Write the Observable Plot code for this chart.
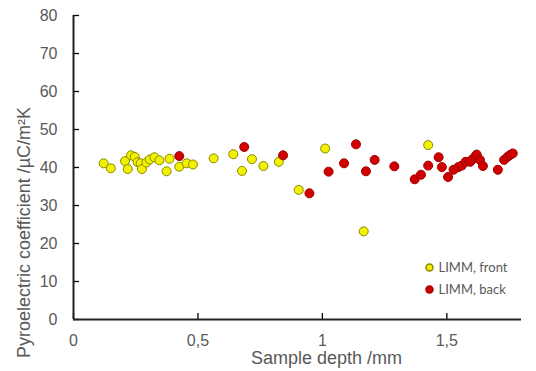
<!DOCTYPE html>
<html>
<head>
<meta charset="utf-8">
<script src="https://cdn.jsdelivr.net/npm/d3@7"></script>
<script src="https://cdn.jsdelivr.net/npm/@observablehq/plot@0.6"></script>
<style>
  html, body { margin: 0; padding: 0; background: #fff; }
</style>
</head>
<body>
<div id="chart"></div>
<script>
const frontX = [0.121,0.150,0.207,0.218,0.231,0.246,0.258,0.270,0.275,0.293,0.306,0.325,0.345,0.374,0.386,0.425,0.455,0.480,0.563,0.642,0.677,0.717,0.763,0.825,0.905,1.011,1.166,1.425];
const frontY = [41.1,39.8,41.7,39.6,43.2,42.8,41.4,41.1,39.6,41.3,42.1,42.7,41.9,39.0,42.3,40.2,41.1,40.8,42.4,43.5,39.1,42.2,40.4,41.5,34.1,45.0,23.2,45.9];
const backX = [0.425,0.686,0.842,0.948,1.025,1.087,1.135,1.175,1.210,1.289,1.371,1.396,1.425,1.467,1.480,1.505,1.527,1.546,1.560,1.576,1.594,1.602,1.614,1.620,1.633,1.645,1.705,1.730,1.744,1.754,1.765];
const backY = [43.0,45.4,43.2,33.2,38.9,41.1,46.1,39.0,42.0,40.3,36.9,38.1,40.5,42.7,40.1,37.5,39.4,40.1,40.5,41.5,41.5,42.1,42.9,43.4,42.0,40.4,39.4,42.0,42.8,43.3,43.7];
const xTicks = [0, 0.5, 1, 1.5];
const yTicks = [0, 10, 20, 30, 40, 50, 60, 70, 80];
const seriesNames = ["LIMM, front", "LIMM, back"];
const xTitle = "Sample depth /mm";
const yTitle = "Pyroelectric coefficient /µC/m²K";

const front = frontX.map((x, i) => ({x, y: frontY[i]}));
const back = backX.map((x, i) => ({x, y: backY[i]}));

const axisFont = "Liberation Sans, Arial, sans-serif";
const fmt = d => String(d).replace(".", ",");

const chart = Plot.plot({
  width: 536,
  height: 371,
  marginLeft: 73,
  marginRight: 15,
  marginTop: 15,
  marginBottom: 52,
  style: {background: "#fff", fontFamily: axisFont},
  x: {domain: [0, 1.8]},
  y: {domain: [0, 80]},
  marks: [
    // inward tick marks
    Plot.axisX(xTicks, {tickSize: -6, tickFormat: () => "", stroke: "#000", strokeWidth: 1.3, label: null}),
    Plot.axisY(yTicks, {tickSize: -6, tickFormat: () => "", stroke: "#000", strokeWidth: 1.3, label: null}),
    // tick labels
    Plot.axisX(xTicks, {tickSize: 0, tickPadding: 15, tickFormat: fmt, fontSize: 16, fill: "#595959", label: null}),
    Plot.axisY(yTicks, {tickSize: 0, tickPadding: 16, fontSize: 16, fill: "#595959", label: null}),
    Plot.ruleY([0], {stroke: "#222", strokeWidth: 2}),
    Plot.ruleX([0], {stroke: "#222", strokeWidth: 2}),
    Plot.dot(front, {x: "x", y: "y", r: 4.5, fill: "#f2f200", stroke: "#8a8a00", strokeWidth: 1}),
    Plot.dot(back, {x: "x", y: "y", r: 4.5, fill: "#d00000", stroke: "#a40000", strokeWidth: 1}),
    // axis titles
    Plot.text([xTitle], {frameAnchor: "bottom", textAnchor: "middle", dx: 29, dy: 39, lineAnchor: "middle", fontSize: 18, fill: "#595959", fontFamily: axisFont}),
    Plot.text([yTitle], {frameAnchor: "left", textAnchor: "middle", rotate: -90, dx: -49, dy: 65, lineAnchor: "middle", fontSize: 18, fill: "#595959", fontFamily: axisFont}),
    // legend
    Plot.dot([seriesNames[0]], {frameAnchor: "bottom-right", dx: -92, dy: -52, r: 3.5, fill: "#f2f200", stroke: "#8a8a00"}),
    Plot.dot([seriesNames[1]], {frameAnchor: "bottom-right", dx: -92, dy: -30, r: 3.5, fill: "#d00000", stroke: "#a40000"}),
    Plot.text([seriesNames[0]], {frameAnchor: "bottom-right", dx: -83, dy: -52, textAnchor: "start", lineAnchor: "middle", fontSize: 13, fill: "#595959", fontFamily: "Lato, sans-serif"}),
    Plot.text([seriesNames[1]], {frameAnchor: "bottom-right", dx: -83, dy: -30, textAnchor: "start", lineAnchor: "middle", fontSize: 13, fill: "#595959", fontFamily: "Lato, sans-serif"})
  ]
});
document.getElementById("chart").appendChild(chart);
</script>
</body>
</html>
